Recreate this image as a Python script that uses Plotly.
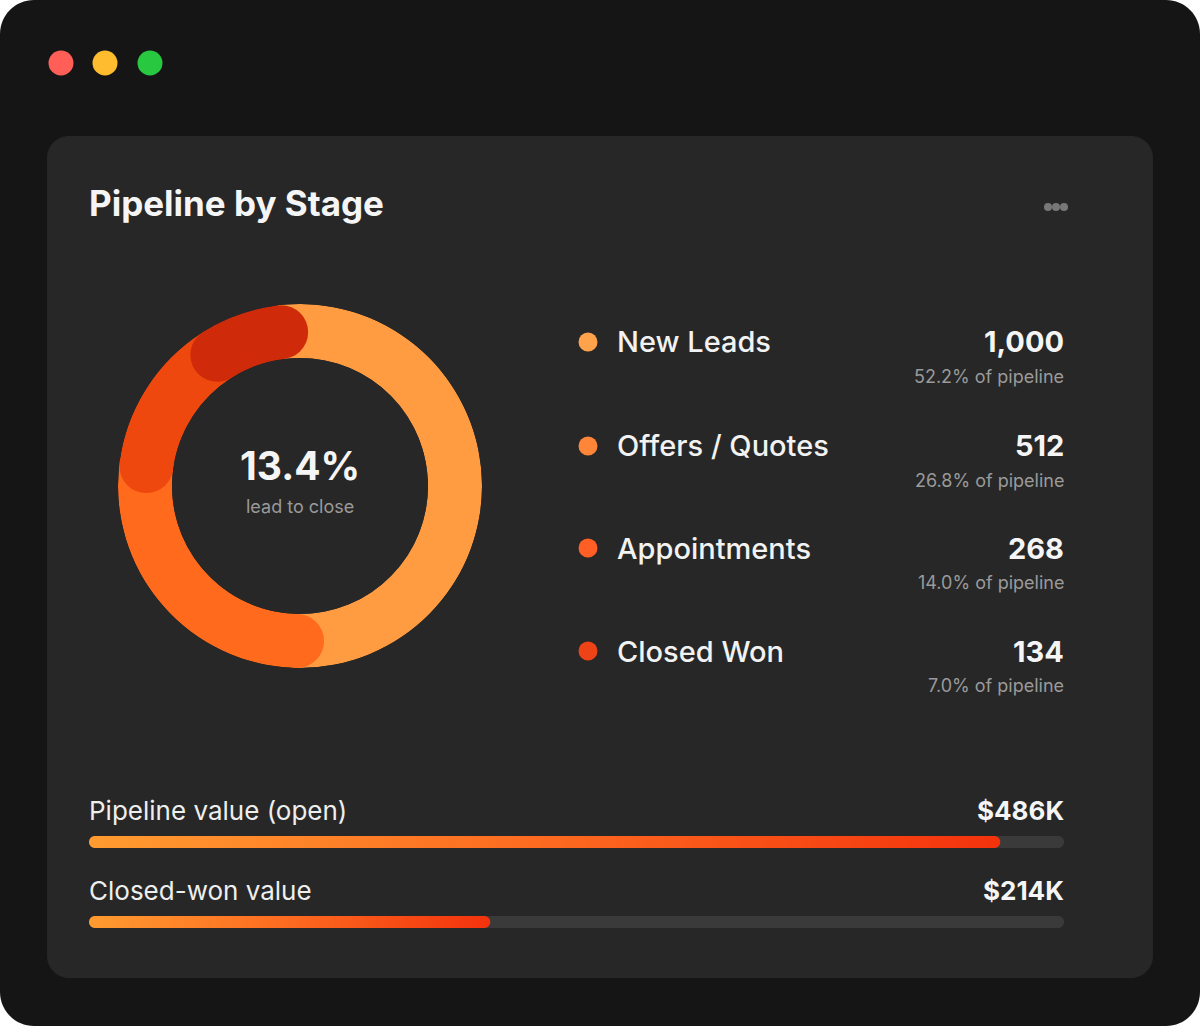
#pipeline by stage card: donut of stage counts + legend rows + value progress bars
import numpy as np
import plotly.graph_objects as go

W, H = 1200, 1026

#%%
#data read off the card
stages = ['New Leads', 'Offers / Quotes', 'Appointments', 'Closed Won']
stage_counts = [1000, 512, 268, 134]
stage_colors = ['#FF9C42', '#FF6A1C', '#EE480E', '#CF2A09']
dot_colors = ['#FFA24C', '#FF8538', '#FF5F24', '#EE4316']

value_labels = ['Pipeline value (open)', 'Closed-won value']
value_k = [486, 214]
bar_max_k = 520

#%%
#helpers to place things in pixel terms on the paper
def X(x):
    return x / W

def Y(y):
    return 1 - y / H

def rrect(x0, y0, x1, y1, r):
    #rounded rectangle as svg path in paper coords (cubic corners since plotly has no arcs)
    k = 0.5523 * r
    pts = [
        ('M', [(x0 + r, y0)]),
        ('L', [(x1 - r, y0)]),
        ('C', [(x1 - r + k, y0), (x1, y0 + r - k), (x1, y0 + r)]),
        ('L', [(x1, y1 - r)]),
        ('C', [(x1, y1 - r + k), (x1 - r + k, y1), (x1 - r, y1)]),
        ('L', [(x0 + r, y1)]),
        ('C', [(x0 + r - k, y1), (x0, y1 - r + k), (x0, y1 - r)]),
        ('L', [(x0, y0 + r)]),
        ('C', [(x0, y0 + r - k), (x0 + r - k, y0), (x0 + r, y0)]),
    ]
    s = ''
    for cmd, p in pts:
        s += cmd + ' ' + ' '.join('{:.5f},{:.5f}'.format(X(a), Y(b)) for a, b in p) + ' '
    return s + 'Z'

def circle(cx, cy, r, color):
    return dict(type='circle', xref='paper', yref='paper', x0=X(cx - r), x1=X(cx + r),
                y0=Y(cy + r), y1=Y(cy - r), fillcolor=color, line=dict(width=0), layer='below')

fig = go.Figure()

#%%
#donut - barpolar wedges, round caps drawn as markers where each segment starts (+ end of the last one)
total = sum(stage_counts)
spans = np.array(stage_counts) / total * 360
starts = np.concatenate([[0], np.cumsum(spans)[:-1]])

fig.add_trace(go.Barpolar(r=[1] * len(stages), theta=starts + spans / 2, width=spans, base=0,
                          marker=dict(color=stage_colors, line=dict(width=0)),
                          hoverinfo='skip', showlegend=False, subplot='polar'))
cap_theta = list(starts[1:]) + [starts[-1] + spans[-1]]
cap_colors = stage_colors[1:] + [stage_colors[-1]]
fig.add_trace(go.Scatterpolar(r=[0.5] * len(cap_theta), theta=cap_theta, mode='markers',
                              marker=dict(size=54, color=cap_colors, line=dict(width=0)),
                              cliponaxis=False, hoverinfo='skip', showlegend=False, subplot='polar'))

#%%
#progress bars: grey track (two overlapping rounded bars so both ends round) + gradient fill
fig.add_trace(go.Bar(x=[bar_max_k] * 2, y=[0, 1], base=0, orientation='h', width=0.15,
                     marker=dict(color='#3A3A3A', cornerradius=6, line=dict(width=0)),
                     hoverinfo='skip', showlegend=False))
fig.add_trace(go.Bar(x=[-bar_max_k] * 2, y=[0, 1], base=[bar_max_k] * 2, orientation='h', width=0.15,
                     marker=dict(color='#3A3A3A', cornerradius=6, line=dict(width=0)),
                     hoverinfo='skip', showlegend=False))

kx = bar_max_k / 975  #units per px along the bar
ky = 1 / 80           #units per px across rows
r_px = 6
for row, v in enumerate(value_k):
    rx, ry = r_px * kx, r_px * ky
    t1 = np.radians(np.linspace(-90, 90, 25))
    t2 = np.radians(np.linspace(90, 270, 25))
    xs = np.concatenate([v - rx + rx * np.cos(t1), rx + rx * np.cos(t2)])
    ys = np.concatenate([row + ry * np.sin(t1), row + ry * np.sin(t2)])
    fig.add_trace(go.Scatter(x=np.append(xs, xs[0]), y=np.append(ys, ys[0]), mode='none', fill='toself',
                             fillgradient=dict(type='horizontal',
                                               colorscale=[[0, '#FF9B30'], [0.5, '#FC6A20'], [1, '#F4320C']]),
                             hoverinfo='skip', showlegend=False))

#%%
#text (annotations carry ~2px padding, so left texts nudged left and right texts nudged right)
ann = []
def txt(x, y, s, size, color, anchor='left', weight=400):
    ann.append(dict(x=X(x), y=Y(y), xref='paper', yref='paper', text=s, showarrow=False,
                    xanchor=anchor, yanchor='middle',
                    font=dict(family='Inter, Open Sans, sans-serif', size=size, color=color, weight=weight)))

txt(87, 203, 'Pipeline by Stage', 35, '#F5F5F5', weight=700)
txt(300, 465, '{:.1f}%'.format(stage_counts[-1] / stage_counts[0] * 100), 39, '#F5F5F5', 'center', 700)
txt(300, 506, 'lead to close', 18, '#9A9A9A', 'center')

row_y = [342, 446, 548, 651]
shapes = []
for i, s in enumerate(stages):
    shapes.append(circle(588, row_y[i], 9.5, dot_colors[i]))
    txt(615, row_y[i], s, 29, '#F2F2F2', weight=500)
    txt(1066, row_y[i], '{:,}'.format(stage_counts[i]), 29, '#F5F5F5', 'right', 700)
    txt(1066, row_y[i] + 34, '{:.1f}% of pipeline'.format(stage_counts[i] / total * 100), 18, '#9A9A9A', 'right')

for row, lab in enumerate(value_labels):
    y = 810 + row * 80
    txt(87, y, lab, 26, '#EEEEEE')
    txt(1066, y, '${}K'.format(value_k[row]), 26, '#F5F5F5', 'right', 700)

#%%
#window chrome + card
shapes = [
    dict(type='path', xref='paper', yref='paper', path=rrect(0, 0, W, H, 34),
         fillcolor='#151515', line=dict(width=0), layer='below'),
    dict(type='path', xref='paper', yref='paper', path=rrect(47, 136, 1153, 978, 22),
         fillcolor='#272727', line=dict(width=0), layer='below'),
    circle(61, 63, 12.5, '#FF5F57'),
    circle(105, 63, 12.5, '#FEBC2E'),
    circle(150, 63, 12.5, '#28C840'),
    circle(1048, 207, 4, '#777777'),
    circle(1056, 207, 4, '#777777'),
    circle(1064, 207, 4, '#777777'),
] + shapes

fig.update_layout(
    width=W, height=H, margin=dict(l=0, r=0, t=0, b=0),
    paper_bgcolor='#FFFFFF', plot_bgcolor='rgba(0,0,0,0)',
    showlegend=False, barmode='overlay',
    polar=dict(domain=dict(x=[X(118), X(482)], y=[Y(668), Y(304)]), hole=128 / 182,
               bgcolor='rgba(0,0,0,0)',
               radialaxis=dict(visible=False, range=[0, 1]),
               angularaxis=dict(visible=False, direction='clockwise', rotation=97)),
    xaxis=dict(domain=[X(89), X(1064)], range=[0, bar_max_k], visible=False, fixedrange=True),
    yaxis=dict(domain=[Y(962), Y(802)], range=[1.5, -0.5], visible=False, fixedrange=True),
    shapes=shapes, annotations=ann,
)

#body has a default 8px margin which pushes the card off the window
fig.write_html('out.html', config={'displayModeBar': False},
               post_script="document.body.style.margin='0px';")
